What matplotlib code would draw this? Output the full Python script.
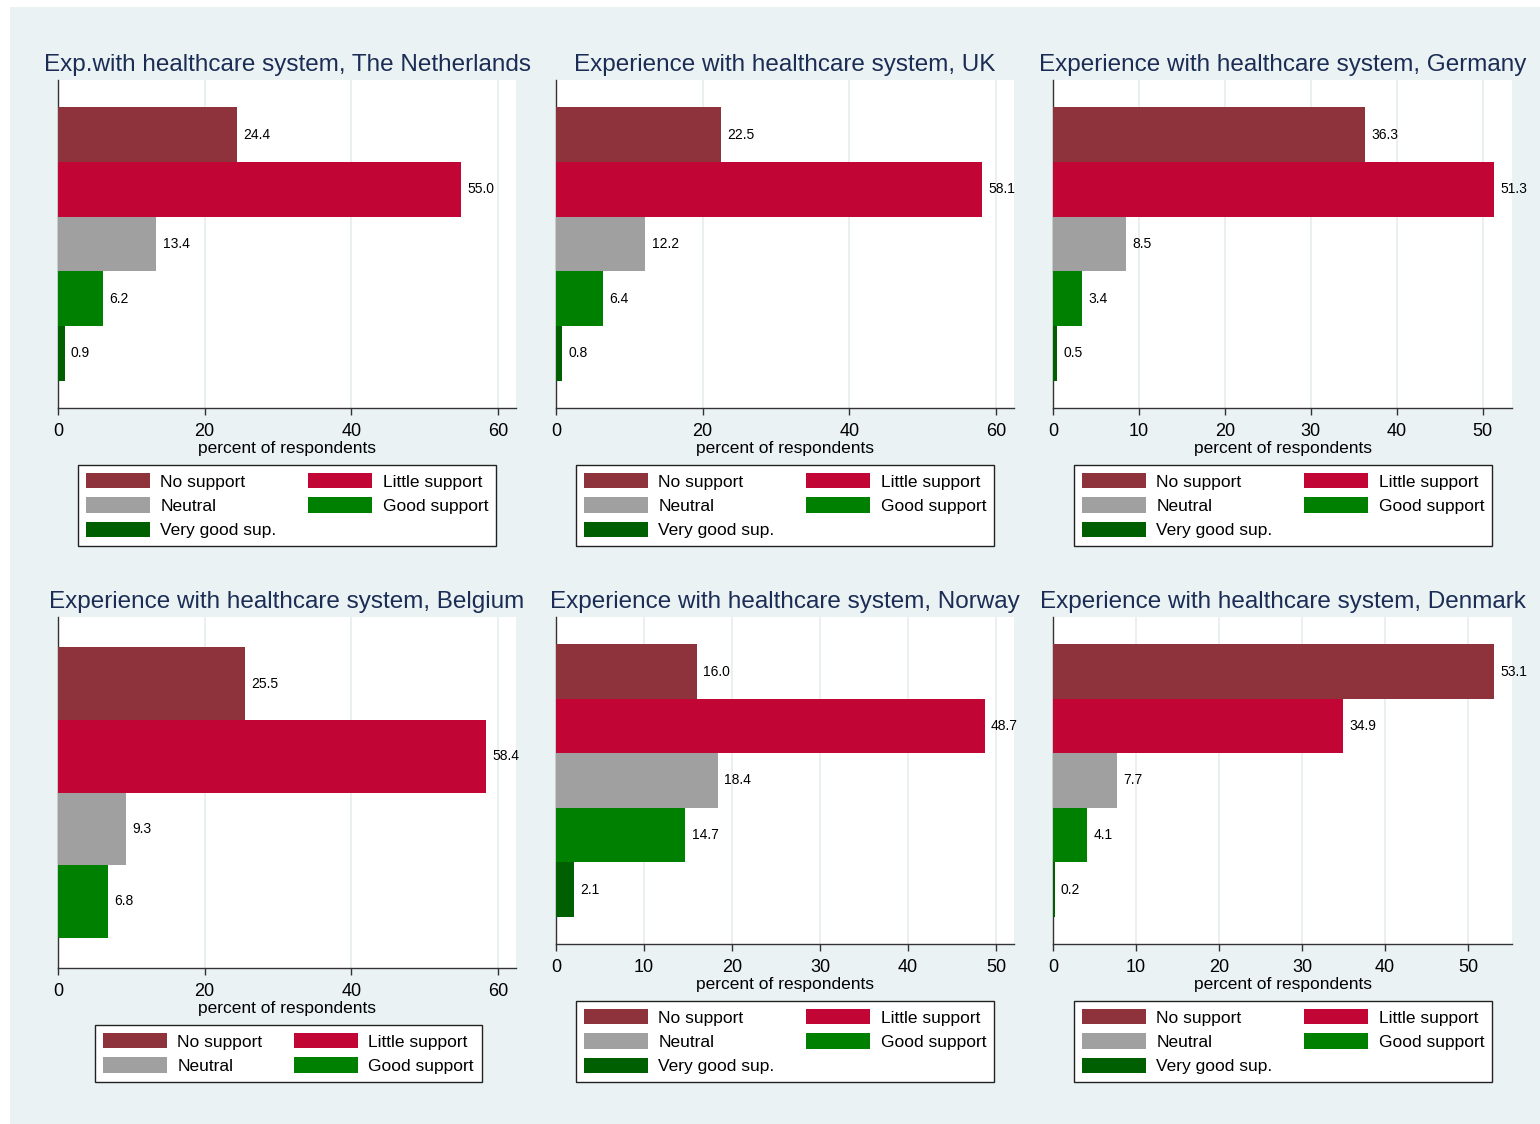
import matplotlib
matplotlib.use("Agg")
import matplotlib.pyplot as plt
from matplotlib.patches import Rectangle, Patch

plt.rcParams['font.family'] = ['Liberation Sans', 'DejaVu Sans']

W, H = 1540, 1124

categories = ["No support", "Little support", "Neutral", "Good support", "Very good sup."]
colors = ["#8E333B", "#C10534", "#A0A0A0", "#008000", "#005F00"]

titles = ["Exp.with healthcare system, The Netherlands",
          "Experience with healthcare system, UK",
          "Experience with healthcare system, Germany",
          "Experience with healthcare system, Belgium",
          "Experience with healthcare system, Norway",
          "Experience with healthcare system, Denmark"]

netherlands = [24.4, 55.0, 13.4, 6.2, 0.9]
uk = [22.5, 58.1, 12.2, 6.4, 0.8]
germany = [36.3, 51.3, 8.5, 3.4, 0.5]
belgium = [25.5, 58.4, 9.3, 6.8]
norway = [16.0, 48.7, 18.4, 14.7, 2.1]
denmark = [53.1, 34.9, 7.7, 4.1, 0.2]

ticks20 = [0, 20, 40, 60]
ticks10 = [0, 10, 20, 30, 40, 50]

series = [netherlands, uk, germany, belgium, norway, denmark]
tick_sets = [ticks20, ticks20, ticks10, ticks20, ticks10, ticks10]

# layout: (x0, x1, y0, y1) plot region in pixels, xmax, legend box (left, top)
layout = [
    ((58, 516, 80, 408), 62.45, (78, 465)),
    ((556, 1014, 80, 408), 62.45, (576, 465)),
    ((1053, 1512, 80, 408), 53.4, (1074, 465)),
    ((58, 516, 617, 968), 62.45, (95, 1025)),
    ((556, 1014, 617, 944), 52.05, (576, 1001)),
    ((1053, 1512, 617, 944), 55.3, (1074, 1001)),
]

fig = plt.figure(figsize=(W / 100, H / 100), dpi=100)
fig.patch.set_facecolor("white")
fig.patches.append(Rectangle((10 / W, 0), 1, 1 - 7 / H, transform=fig.transFigure,
                             facecolor="#EAF2F3", edgecolor="none", zorder=-10))

navy = "#1C2D55"

for i, (vals, ticks, (box, xmax, leg)) in enumerate(zip(series, tick_sets, layout)):
    x0, x1, y0, y1 = box
    ax = fig.add_axes([x0 / W, 1 - y1 / H, (x1 - x0) / W, (y1 - y0) / H])
    ax.set_facecolor("white")
    n = len(vals)
    pos = list(range(n))
    ax.barh(pos, vals, height=1.0, color=colors[:n], edgecolor="none", zorder=3)
    for p, v in zip(pos, vals):
        ax.annotate(f"{v:.1f}", (v, p), xytext=(4.5, 0), textcoords="offset points",
                    va="center", ha="left", fontsize=10, color="black", zorder=4)
    if n == 5:
        ax.set_ylim(4.5 + 0.5, -0.5 - 0.5)
    else:
        ax.set_ylim(3.5 + 0.42, -0.5 - 0.42)
    ax.set_xlim(0, xmax)
    ax.set_xticks(ticks)
    ax.set_xticklabels([str(t) for t in ticks], fontsize=13)
    ax.set_yticks([])
    ax.grid(axis="x", color="#E6EEF0", linewidth=1.2, zorder=0)
    for s in ["top", "right"]:
        ax.spines[s].set_visible(False)
    for s in ["left", "bottom"]:
        ax.spines[s].set_color("#333333")
        ax.spines[s].set_linewidth(1.0)
    ax.tick_params(axis="x", length=5, width=1, color="#333333", pad=5.5)
    ax.set_xlabel("percent of respondents", fontsize=12.5, labelpad=1.0)
    ax.set_title(titles[i], fontsize=17.5, color=navy, pad=6.5)

    handles = [Patch(facecolor=c, edgecolor="none") for c in colors[:n]]
    order = [0, 2, 4, 1, 3] if n == 5 else [0, 2, 1, 3]
    lg = fig.legend([handles[k] for k in order], [categories[k] for k in order],
                    loc="upper left", bbox_to_anchor=(leg[0] / W, 1 - leg[1] / H),
                    bbox_transform=fig.transFigure, ncol=2, fontsize=12.5,
                    frameon=True, fancybox=False, edgecolor="#222222", framealpha=1.0,
                    handlelength=3.7, handleheight=1.0, handletextpad=0.6,
                    columnspacing=1.8, labelspacing=0.44, borderpad=0.45,
                    borderaxespad=0)
    lg.get_frame().set_linewidth(1.0)

fig.savefig("out.png", dpi=100, facecolor=fig.get_facecolor())
